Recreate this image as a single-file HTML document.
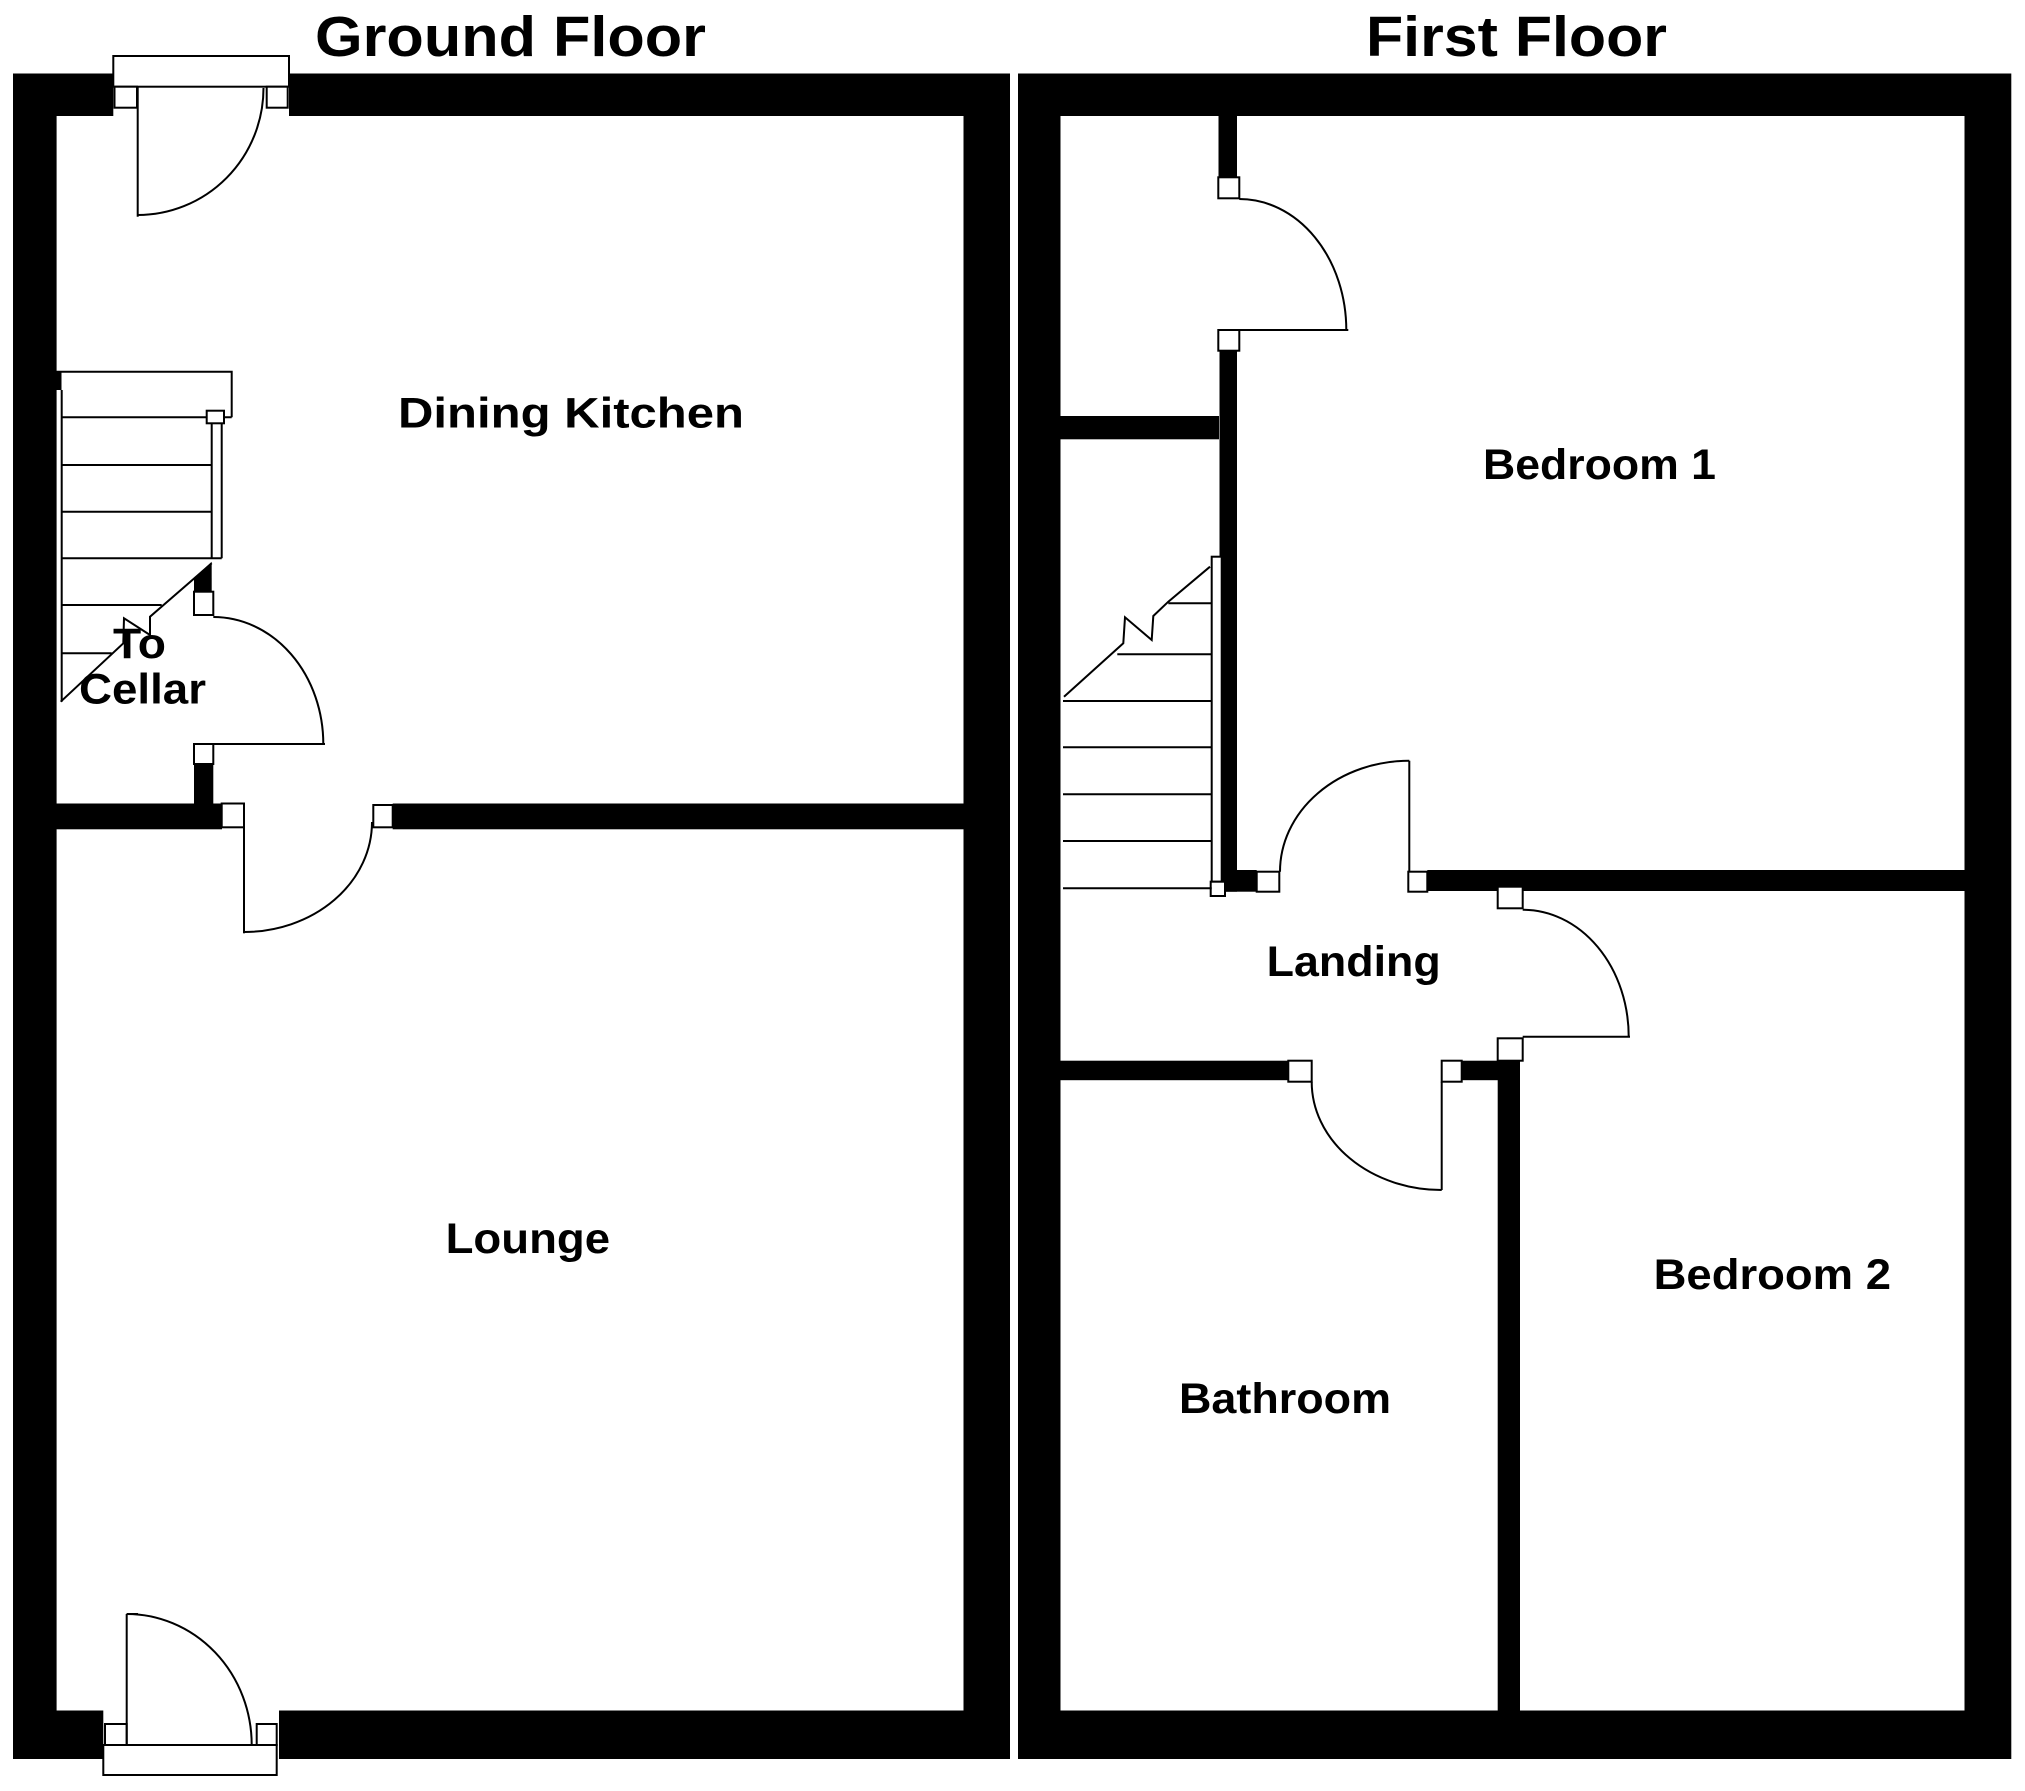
<!DOCTYPE html>
<html>
<head>
<meta charset="utf-8">
<style>
  html, body { margin:0; padding:0; background:#fff; }
  svg { display:block; }
  text { font-family: "Liberation Sans", Arial, sans-serif; font-weight:bold; fill:#000; }
</style>
</head>
<body>
<svg width="2025" height="1791" viewBox="0 0 2025 1791" xmlns="http://www.w3.org/2000/svg">
  <rect x="0" y="0" width="2025" height="1791" fill="#fff"/>

  <!-- ================= GROUND FLOOR ================= -->
  <!-- outer walls -->
  <rect x="13" y="73.5" width="997" height="1685.5" fill="#000"/>
  <rect x="56.6" y="116" width="906.9" height="1594.5" fill="#fff"/>
  <!-- top door opening -->
  <rect x="113.3" y="72" width="175.7" height="45" fill="#fff"/>
  <!-- bottom door opening -->
  <rect x="103.3" y="1709" width="175.7" height="52" fill="#fff"/>

  <!-- dividing wall -->
  <rect x="56" y="803.5" width="166" height="25.8" fill="#000"/>
  <rect x="392.7" y="803.5" width="571" height="25.8" fill="#000"/>
  <!-- cellar stub -->
  <rect x="194" y="764" width="19.3" height="41" fill="#000"/>
  <!-- black wedge -->
  <polygon points="211.7,561.7 211.7,591.7 194,591.7 194,578" fill="#000"/>
  <!-- small wall notch at stair top -->
  <rect x="56" y="372" width="5.5" height="18" fill="#000"/>

  <g fill="none" stroke="#000" stroke-width="2">
    <!-- top door -->
    <rect x="113.3" y="56" width="175.7" height="30.7" fill="#fff"/>
    <rect x="114.5" y="86.7" width="22.5" height="21" fill="#fff"/>
    <rect x="266.7" y="86.7" width="21" height="21" fill="#fff"/>
    <line x1="137.7" y1="86.7" x2="137.7" y2="216.7"/>
    <path d="M137.7,215 A125.8,127 0 0 0 263.5,88"/>

    <!-- bottom door -->
    <rect x="103.3" y="1745" width="173.4" height="30" fill="#fff"/>
    <rect x="105" y="1724" width="21.7" height="21" fill="#fff"/>
    <rect x="256.7" y="1724" width="20" height="21" fill="#fff"/>
    <line x1="126.7" y1="1614" x2="126.7" y2="1745"/>
    <line x1="126.7" y1="1614" x2="138" y2="1614"/>
    <path d="M126.7,1614 A125,131 0 0 1 251.7,1745"/>

    <!-- stairs (ground) -->
    <polyline points="56,371.7 231.7,371.7 231.7,417.3"/>
    <line x1="61.7" y1="390" x2="61.7" y2="701.7"/>
    <line x1="61.7" y1="417.3" x2="231.7" y2="417.3"/>
    <line x1="61.7" y1="465" x2="211.7" y2="465"/>
    <line x1="61.7" y1="511.7" x2="211.7" y2="511.7"/>
    <line x1="61.7" y1="558.3" x2="221.7" y2="558.3"/>
    <line x1="61.7" y1="605" x2="161.7" y2="605"/>
    <line x1="61.7" y1="653.3" x2="111.7" y2="653.3"/>
    <line x1="211.7" y1="423" x2="211.7" y2="558.3"/>
    <line x1="221.7" y1="423" x2="221.7" y2="558.3"/>
    <rect x="206.7" y="410.7" width="17.3" height="12.6" fill="#fff"/>
    <polyline points="60.7,701.7 123.3,643.3 124,618.3 150,635 150,616.7 211.7,563.3"/>

    <!-- cellar door -->
    <rect x="194" y="591.7" width="19.3" height="23.3" fill="#fff"/>
    <rect x="194" y="744" width="19.3" height="20" fill="#fff"/>
    <line x1="213.3" y1="744" x2="325" y2="744"/>
    <path d="M213.3,617 A110,127 0 0 1 323.3,744"/>

    <!-- lounge door -->
    <rect x="221.7" y="803.5" width="22.3" height="23.8" fill="#fff"/>
    <rect x="373.3" y="805" width="19.4" height="22.3" fill="#fff"/>
    <line x1="244" y1="827.3" x2="244" y2="933.3"/>
    <path d="M244,932 A128,110 0 0 0 372,822"/>
  </g>

  <!-- ================= FIRST FLOOR ================= -->
  <rect x="1018" y="73.5" width="993.3" height="1685.5" fill="#000"/>
  <rect x="1060.5" y="116" width="904" height="1594.5" fill="#fff"/>

  <!-- cupboard wall stub + lower vertical wall -->
  <rect x="1218.5" y="115" width="18.5" height="63" fill="#000"/>
  <rect x="1219.5" y="350" width="17.5" height="541.7" fill="#000"/>
  <!-- cupboard bottom wall -->
  <rect x="1060" y="416" width="159" height="23.3" fill="#000"/>
  <!-- bedroom1 / landing wall -->
  <rect x="1219.5" y="870" width="37.2" height="21.7" fill="#000"/>
  <rect x="1427.3" y="870" width="537.5" height="21" fill="#000"/>
  <!-- bathroom / bedroom2 vertical wall -->
  <rect x="1497.7" y="1060.7" width="22.3" height="650" fill="#000"/>
  <!-- bathroom top wall -->
  <rect x="1060" y="1060.7" width="228.3" height="19.5" fill="#000"/>
  <rect x="1461.7" y="1060.7" width="58" height="19.5" fill="#000"/>

  <g fill="none" stroke="#000" stroke-width="2">
    <!-- cupboard door -->
    <rect x="1218.3" y="177.3" width="21" height="21" fill="#fff"/>
    <rect x="1218.3" y="330" width="21" height="20.7" fill="#fff"/>
    <line x1="1239.3" y1="330" x2="1348.3" y2="330"/>
    <path d="M1239.3,199 A107,131 0 0 1 1346.3,330"/>

    <!-- stairs (first) -->
    <rect x="1211.7" y="556.7" width="10" height="325" fill="#fff"/>
    <rect x="1210.7" y="881.7" width="14.3" height="14.3" fill="#fff"/>
    <line x1="1168.3" y1="603.3" x2="1211.7" y2="603.3"/>
    <line x1="1117.3" y1="654.3" x2="1211.7" y2="654.3"/>
    <line x1="1063" y1="701" x2="1211.7" y2="701"/>
    <line x1="1063" y1="747.3" x2="1211.7" y2="747.3"/>
    <line x1="1063" y1="794.3" x2="1211.7" y2="794.3"/>
    <line x1="1063" y1="841" x2="1211.7" y2="841"/>
    <line x1="1063" y1="888.3" x2="1211.7" y2="888.3"/>
    <polyline points="1064,696.7 1123.3,643.3 1125,617.3 1151.7,640 1153.3,616 1168.3,601.7 1210,566.7"/>

    <!-- bedroom 1 door -->
    <rect x="1256.7" y="871.7" width="22.6" height="20" fill="#fff"/>
    <rect x="1408.3" y="871.7" width="19" height="20" fill="#fff"/>
    <line x1="1409.3" y1="760.7" x2="1409.3" y2="871.7"/>
    <path d="M1280,871.7 A129.3,111 0 0 1 1409.3,760.7"/>

    <!-- bedroom 2 door -->
    <rect x="1497.7" y="886.7" width="25" height="21.6" fill="#fff"/>
    <rect x="1497.7" y="1038.3" width="25" height="22.4" fill="#fff"/>
    <line x1="1522.7" y1="1036.7" x2="1630" y2="1036.7"/>
    <path d="M1522.7,909.7 A106,127 0 0 1 1628.7,1036.7"/>

    <!-- bathroom door -->
    <rect x="1288.3" y="1060.7" width="23.4" height="21" fill="#fff"/>
    <rect x="1441.7" y="1060.7" width="20" height="21" fill="#fff"/>
    <line x1="1441.7" y1="1081.7" x2="1441.7" y2="1190"/>
    <path d="M1311.7,1081.7 A130,108.3 0 0 0 1441.7,1190"/>
  </g>

  <!-- ================= LABELS ================= -->
  <text x="315" y="56" font-size="57" textLength="391" lengthAdjust="spacingAndGlyphs">Ground Floor</text>
  <text x="1366" y="56" font-size="57" textLength="301" lengthAdjust="spacingAndGlyphs">First Floor</text>

  <text x="398" y="427.6" font-size="43" textLength="346" lengthAdjust="spacingAndGlyphs">Dining Kitchen</text>
  <text x="113" y="658" font-size="43" textLength="53" lengthAdjust="spacingAndGlyphs">To</text>
  <text x="79" y="703.5" font-size="43" textLength="127" lengthAdjust="spacingAndGlyphs">Cellar</text>
  <text x="445.6" y="1253" font-size="43" textLength="164.5" lengthAdjust="spacingAndGlyphs">Lounge</text>

  <text x="1483" y="479" font-size="43" textLength="233" lengthAdjust="spacingAndGlyphs">Bedroom 1</text>
  <text x="1266.7" y="976" font-size="43" textLength="174" lengthAdjust="spacingAndGlyphs">Landing</text>
  <text x="1179" y="1413" font-size="43" textLength="212" lengthAdjust="spacingAndGlyphs">Bathroom</text>
  <text x="1653.6" y="1289" font-size="43" textLength="237.4" lengthAdjust="spacingAndGlyphs">Bedroom 2</text>
</svg>
</body>
</html>
